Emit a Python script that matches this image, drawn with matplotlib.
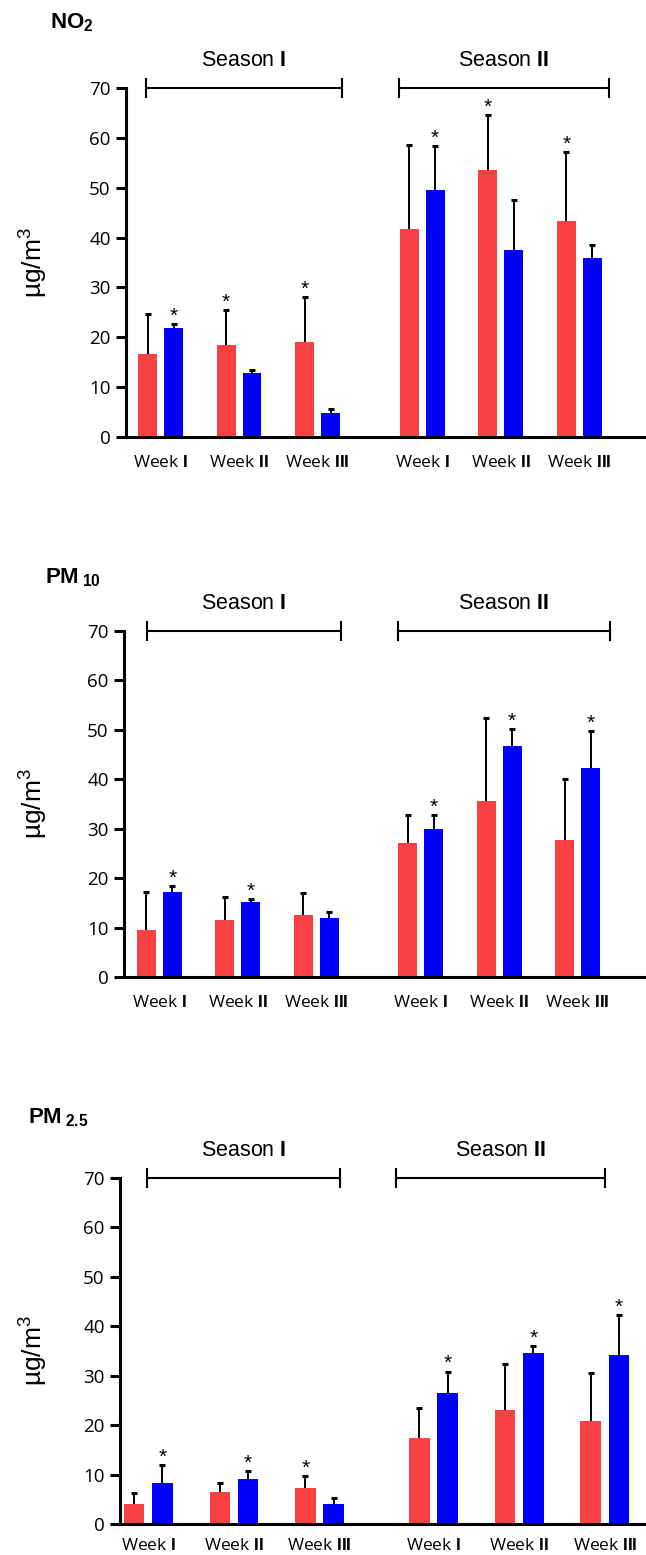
import matplotlib
matplotlib.use("Agg")
import matplotlib.pyplot as plt
import numpy as np

plt.rcParams['font.family'] = ['Liberation Sans', 'DejaVu Sans']
plt.rcParams['mathtext.fontset'] = 'custom'
plt.rcParams['mathtext.rm'] = 'Liberation Sans'
plt.rcParams['mathtext.bf'] = 'Liberation Sans:bold'

# data (ug/m3), order: Season I weeks I-III, Season II weeks I-III
weeks = ["Week $\\mathbf{I}$", "Week $\\mathbf{II}$", "Week $\\mathbf{III}$"] * 2
seasons = ["Season $\\mathbf{I}$", "Season $\\mathbf{II}$"]

no2_red = [16.6, 18.4, 19.0, 41.7, 53.6, 43.3]
no2_red_sd = [8.0, 7.0, 9.0, 16.8, 10.9, 13.8]
no2_blue = [21.9, 12.8, 4.9, 49.6, 37.6, 35.9]
no2_blue_sd = [0.7, 0.7, 0.8, 8.7, 9.9, 2.6]
no2_red_sig = [0, 1, 1, 0, 1, 1]
no2_blue_sig = [1, 0, 0, 1, 0, 0]

pm10_red = [9.6, 11.6, 12.5, 27.2, 35.6, 27.7]
pm10_red_sd = [7.6, 4.6, 4.5, 5.6, 16.8, 12.3]
pm10_blue = [17.1, 15.1, 12.0, 30.0, 46.8, 42.2]
pm10_blue_sd = [1.3, 0.6, 1.2, 2.8, 3.3, 7.6]
pm10_red_sig = [0, 0, 0, 0, 0, 0]
pm10_blue_sig = [1, 1, 0, 1, 1, 1]

pm25_red = [4.0, 6.4, 7.3, 17.5, 23.0, 20.8]
pm25_red_sd = [2.3, 1.9, 2.4, 6.0, 9.4, 9.8]
pm25_blue = [8.2, 9.2, 4.0, 26.6, 34.5, 34.1]
pm25_blue_sd = [3.7, 1.5, 1.3, 4.2, 1.5, 8.1]
pm25_red_sig = [0, 0, 1, 0, 0, 0]
pm25_blue_sig = [1, 1, 0, 1, 1, 1]

RED = '#F94144'
BLUE = '#0000FF'
W, H = 646, 1555

fig = plt.figure(figsize=(W / 100, H / 100), dpi=100)

xpos = np.array([0, 1, 2, 3.33, 4.33, 5.33])
off, bw = 0.165, 0.24


def upper_err(ax, x, vals, sd):
    eb = ax.errorbar(x, vals, yerr=[np.zeros(len(vals)), sd], fmt='none', ecolor='black',
                     elinewidth=1.4, capsize=2, capthick=2.2, zorder=3)
    # keep only the upper cap
    for cl in eb[2 - 1]:
        if np.allclose(cl.get_ydata(), vals):
            cl.remove()


panels = [
    # title, data, left px, top px, bottom px, xlim, brackets, title pos px, week pad
    ("NO$_\\mathbf{2}$", (no2_red, no2_red_sd, no2_blue, no2_blue_sd, no2_red_sig, no2_blue_sig),
     126, 88, 437, (-0.44, 6.18), [(-0.185, 2.31), (3.03, 5.71)], (50, 23), 13),
    ("PM$\\,_\\mathbf{10}$", (pm10_red, pm10_red_sd, pm10_blue, pm10_blue_sd, pm10_red_sig, pm10_blue_sig),
     124, 631, 977, (-0.45, 6.2), [(-0.16, 2.32), (3.04, 5.74)], (45, 578), 13),
    ("PM$\\,_\\mathbf{2.5}$", (pm25_red, pm25_red_sd, pm25_blue, pm25_blue_sd, pm25_red_sig, pm25_blue_sig),
     120, 1178, 1524, (-0.33, 5.81), [(-0.01, 2.24), (2.89, 5.33)], (28, 1118), 10),
]

for title, d, left, top, bottom, xlim, brackets, tpos, wpad in panels:
    red, red_sd, blue, blue_sd, red_sig, blue_sig = d
    ax = fig.add_axes([left / W, 1 - bottom / H, (W - left) / W, (bottom - top) / H])
    ax.bar(xpos - off, red, bw, color=RED, zorder=2)
    ax.bar(xpos + off, blue, bw, color=BLUE, zorder=2)
    upper_err(ax, xpos - off, red, red_sd)
    upper_err(ax, xpos + off, blue, blue_sd)
    for i in range(6):
        if red_sig[i]:
            ax.text(xpos[i] - off, red[i] + red_sd[i] + 0.5, '*', ha='center', va='baseline',
                    fontsize=15, clip_on=False)
        if blue_sig[i]:
            ax.text(xpos[i] + off, blue[i] + blue_sd[i] + 0.5, '*', ha='center', va='baseline',
                    fontsize=15, clip_on=False)

    ax.set_xlim(*xlim)
    ax.set_ylim(0, 70)
    ax.set_yticks(range(0, 71, 10))
    ax.set_xticks(xpos)
    ax.set_xticklabels(weeks, fontsize=12.5, family=['Open Sans', 'DejaVu Sans'])
    ax.tick_params(axis='x', length=0, pad=wpad)
    ax.tick_params(axis='y', length=7, width=2.2, pad=4, labelsize=13.5)
    for lab in ax.get_yticklabels():
        lab.set_family(['Open Sans', 'DejaVu Sans'])
    for s in ['top', 'right']:
        ax.spines[s].set_visible(False)
    for s in ['left', 'bottom']:
        ax.spines[s].set_linewidth(2.2)

    for (x0, x1), lab in zip(brackets, seasons):
        ax.plot([x0, x1], [70, 70], color='black', lw=1.5, clip_on=False)
        ax.plot([x0, x0], [68.1, 71.9], color='black', lw=1.5, clip_on=False)
        ax.plot([x1, x1], [68.1, 71.9], color='black', lw=1.5, clip_on=False)
        ax.annotate(lab, ((x0 + x1) / 2, 70), xytext=(0, 20), textcoords='offset points',
                    ha='center', va='center', fontsize=15.5, annotation_clip=False)

    fig.text(tpos[0] / W, 1 - tpos[1] / H, title, fontsize=16, fontweight='bold',
             ha='left', va='center')
    fig.text(33 / W, 1 - (top + bottom) / 2 / H, "µg/m$^\\mathregular{3}$", rotation=90,
             ha='center', va='center', fontsize=19)

fig.savefig('out.png', dpi=100)
